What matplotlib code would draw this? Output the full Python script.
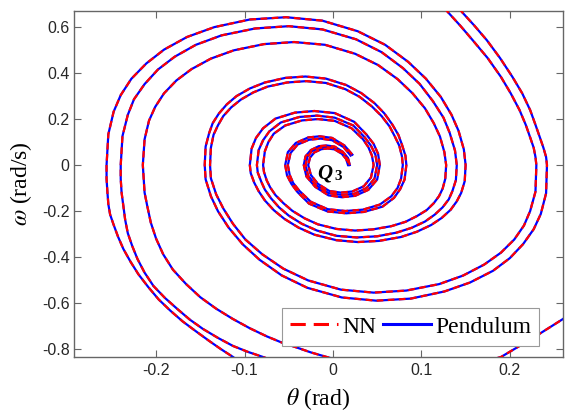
import matplotlib
matplotlib.use("Agg")
import matplotlib.pyplot as plt
from matplotlib.lines import Line2D

# ---------------------------------------------------------------------------
# Phase-plane trajectories (theta in rad, omega in rad/s)
# ---------------------------------------------------------------------------
theta_a1 = [-0.095, -0.113, -0.127, -0.140, -0.155, -0.170, -0.184, -0.197, -0.209, -0.220,
            -0.229, -0.237, -0.243, -0.248, -0.252, -0.254, -0.255, -0.256,
            -0.256, -0.254, -0.248, -0.240, -0.228, -0.211, -0.191, -0.165, -0.134, -0.094, -0.053,
            -0.012, 0.028, 0.059, 0.085, 0.105, 0.122, 0.134, 0.142, 0.148, 0.150,
            0.149, 0.145, 0.140, 0.133, 0.123, 0.111, 0.095, 0.077, 0.052, 0.028,
            0.004, -0.021, -0.039, -0.055, -0.067, -0.077, -0.084, -0.089, -0.093, -0.094,
            -0.092, -0.087, -0.079, -0.065, -0.043, -0.021, 0.002, 0.024, 0.038, 0.046, 0.051, 0.053,
            0.050, 0.040, 0.025, 0.010, -0.005, -0.020, -0.030, -0.033,
            -0.031, -0.025, -0.016, -0.007, 0.002, 0.011, 0.017, 0.019]
omega_a1 = [-0.885, -0.835, -0.800, -0.765, -0.723, -0.680, -0.633, -0.585, -0.530, -0.475,
            -0.420, -0.365, -0.312, -0.260, -0.215, -0.170, -0.120, -0.060,
            0.0, 0.134, 0.232, 0.304, 0.375, 0.442, 0.502, 0.557, 0.600, 0.633, 0.643,
            0.628, 0.582, 0.523, 0.449, 0.376, 0.296, 0.219, 0.149, 0.068, 0.0,
            -0.070, -0.121, -0.158, -0.195, -0.230, -0.261, -0.290, -0.313, -0.330, -0.335,
            -0.327, -0.303, -0.272, -0.234, -0.196, -0.154, -0.114, -0.077, -0.035, 0.0,
            0.071, 0.118, 0.160, 0.202, 0.228, 0.235, 0.226, 0.188, 0.132, 0.092, 0.049, 0.0,
            -0.063, -0.108, -0.134, -0.140, -0.132, -0.095, -0.050, 0.0,
            0.038, 0.065, 0.082, 0.085, 0.080, 0.058, 0.031, 0.0]

theta_a2 = [-0.060, -0.079, -0.096, -0.113, -0.130, -0.147, -0.162, -0.176, -0.190, -0.203,
            -0.213, -0.221, -0.227, -0.232, -0.235, -0.237, -0.239, -0.240,
            -0.240, -0.238, -0.232, -0.225, -0.213, -0.198, -0.179, -0.155, -0.126, -0.088, -0.050,
            -0.012, 0.026, 0.055, 0.079, 0.098, 0.113, 0.125, 0.132, 0.138, 0.140,
            0.139, 0.135, 0.131, 0.124, 0.115, 0.104, 0.089, 0.072, 0.050, 0.027,
            0.004, -0.018, -0.035, -0.050, -0.061, -0.070, -0.077, -0.081, -0.085, -0.086,
            -0.084, -0.079, -0.072, -0.059, -0.038, -0.018, 0.002, 0.023, 0.036, 0.043, 0.048, 0.050,
            0.047, 0.038, 0.024, 0.010, -0.005, -0.019, -0.028, -0.031,
            -0.029, -0.024, -0.015, -0.007, 0.002, 0.011, 0.016, 0.018]
omega_a2 = [-0.862, -0.835, -0.813, -0.787, -0.752, -0.713, -0.672, -0.626, -0.578, -0.526,
            -0.468, -0.409, -0.352, -0.296, -0.237, -0.178, -0.120, -0.060,
            0.0, 0.126, 0.218, 0.286, 0.352, 0.415, 0.471, 0.523, 0.564, 0.594, 0.604,
            0.590, 0.547, 0.491, 0.422, 0.353, 0.278, 0.206, 0.140, 0.063, 0.0,
            -0.066, -0.114, -0.149, -0.184, -0.216, -0.246, -0.273, -0.294, -0.310, -0.315,
            -0.308, -0.285, -0.256, -0.220, -0.184, -0.145, -0.107, -0.073, -0.033, 0.0,
            0.065, 0.108, 0.146, 0.185, 0.209, 0.215, 0.206, 0.172, 0.120, 0.084, 0.045, 0.0,
            -0.059, -0.100, -0.125, -0.130, -0.122, -0.088, -0.047, 0.0,
            0.035, 0.060, 0.075, 0.078, 0.073, 0.053, 0.028, 0.0]

theta_a3 = [0.290, 0.260, 0.225, 0.190, 0.150, 0.090, 0.030,
            -0.007, -0.025, -0.040, -0.058, -0.075, -0.094, -0.113, -0.132, -0.150, -0.166,
            -0.181, -0.192, -0.200, -0.206, -0.210, -0.213, -0.214,
            -0.215, -0.213, -0.208, -0.201, -0.191, -0.177, -0.160, -0.138, -0.112, -0.078, -0.044,
            -0.009, 0.025, 0.051, 0.073, 0.090, 0.104, 0.114, 0.121, 0.126, 0.128,
            0.127, 0.124, 0.120, 0.114, 0.106, 0.095, 0.082, 0.066, 0.045, 0.025,
            0.004, -0.017, -0.032, -0.046, -0.056, -0.065, -0.071, -0.075, -0.078, -0.079,
            -0.077, -0.073, -0.067, -0.054, -0.035, -0.017, 0.002, 0.021, 0.034, 0.040, 0.044, 0.046,
            0.043, 0.035, 0.022, 0.009, -0.004, -0.017, -0.025, -0.028,
            -0.026, -0.021, -0.013, -0.006, 0.002, 0.010, 0.015, 0.017]
omega_a3 = [-0.580, -0.670, -0.755, -0.835, -0.880, -0.900, -0.875,
            -0.835, -0.815, -0.795, -0.772, -0.745, -0.710, -0.670, -0.625, -0.575, -0.518,
            -0.455, -0.388, -0.320, -0.250, -0.178, -0.120, -0.060,
            0.0, 0.112, 0.193, 0.253, 0.312, 0.368, 0.417, 0.463, 0.499, 0.526, 0.535,
            0.523, 0.484, 0.435, 0.374, 0.312, 0.247, 0.182, 0.124, 0.056, 0.0,
            -0.060, -0.103, -0.135, -0.166, -0.196, -0.222, -0.247, -0.266, -0.280, -0.285,
            -0.278, -0.258, -0.232, -0.199, -0.166, -0.131, -0.097, -0.066, -0.030, 0.0,
            0.060, 0.100, 0.136, 0.172, 0.194, 0.200, 0.192, 0.160, 0.112, 0.078, 0.042, 0.0,
            -0.054, -0.092, -0.115, -0.120, -0.113, -0.082, -0.043, 0.0,
            0.032, 0.055, 0.069, 0.072, 0.068, 0.049, 0.026, 0.0]

theta_b1 = [0.135, 0.146, 0.160, 0.174, 0.189, 0.203, 0.214, 0.223, 0.229, 0.234, 0.238, 0.241,
            0.242, 0.241, 0.235, 0.227, 0.215, 0.200, 0.181, 0.155, 0.126, 0.088, 0.049,
            0.010, -0.029, -0.058, -0.083, -0.102, -0.118, -0.130, -0.138, -0.144, -0.145,
            -0.144, -0.140, -0.136, -0.129, -0.120, -0.109, -0.094, -0.077, -0.054, -0.031,
            -0.008, 0.015, 0.032, 0.047, 0.058, 0.067, 0.074, 0.078, 0.082, 0.083,
            0.081, 0.076, 0.069, 0.056, 0.035, 0.015, -0.006, -0.027, -0.040, -0.047, -0.052, -0.054,
            -0.051, -0.042, -0.028, -0.015, -0.001, 0.013, 0.022]
omega_b1 = [0.720, 0.665, 0.606, 0.543, 0.465, 0.383, 0.312, 0.239, 0.175, 0.120, 0.075, 0.035,
            0.0, -0.123, -0.213, -0.279, -0.344, -0.405, -0.460, -0.511, -0.550, -0.581, -0.590,
            -0.576, -0.534, -0.480, -0.412, -0.345, -0.272, -0.201, -0.136, -0.062, 0.0,
            0.080, 0.139, 0.182, 0.224, 0.264, 0.300, 0.333, 0.359, 0.379, 0.385,
            0.376, 0.348, 0.313, 0.269, 0.225, 0.177, 0.131, 0.089, 0.040, 0.0,
            -0.063, -0.105, -0.143, -0.181, -0.204, -0.210, -0.202, -0.168, -0.118, -0.082, -0.044, 0.0,
            0.056, 0.096, 0.120, 0.125, 0.118, 0.085, 0.045]

theta_b2 = [0.118, 0.130, 0.144, 0.158, 0.175, 0.190, 0.201, 0.211, 0.218, 0.223, 0.227, 0.229,
            0.230, 0.229, 0.223, 0.216, 0.205, 0.190, 0.171, 0.147, 0.120, 0.083, 0.046,
            0.009, -0.028, -0.056, -0.080, -0.099, -0.113, -0.124, -0.132, -0.138, -0.139,
            -0.138, -0.135, -0.130, -0.124, -0.115, -0.104, -0.090, -0.074, -0.052, -0.030,
            -0.008, 0.014, 0.030, 0.044, 0.055, 0.064, 0.070, 0.075, 0.078, 0.079,
            0.077, 0.073, 0.066, 0.053, 0.034, 0.014, -0.006, -0.025, -0.038, -0.045, -0.049, -0.051,
            -0.048, -0.040, -0.027, -0.014, -0.001, 0.012, 0.020]
omega_b2 = [0.720, 0.665, 0.606, 0.543, 0.465, 0.383, 0.312, 0.239, 0.175, 0.120, 0.075, 0.035,
            0.0, -0.116, -0.200, -0.263, -0.324, -0.381, -0.433, -0.481, -0.518, -0.546, -0.555,
            -0.542, -0.502, -0.451, -0.388, -0.324, -0.256, -0.189, -0.128, -0.058, 0.0,
            0.076, 0.132, 0.173, 0.213, 0.251, 0.285, 0.316, 0.341, 0.359, 0.365,
            0.357, 0.330, 0.297, 0.255, 0.213, 0.168, 0.124, 0.084, 0.038, 0.0,
            -0.060, -0.100, -0.136, -0.172, -0.194, -0.200, -0.192, -0.160, -0.112, -0.078, -0.042, 0.0,
            0.052, 0.089, 0.110, 0.115, 0.108, 0.078, 0.041]

x_ticks = [-0.2, -0.1, 0.0, 0.1, 0.2]
x_tick_labels = ["-0.2", "-0.1", "0", "0.1", "0.2"]
y_ticks = [-0.8, -0.6, -0.4, -0.2, 0.0, 0.2, 0.4, 0.6]
y_tick_labels = ["-0.8", "-0.6", "-0.4", "-0.2", "0", "0.2", "0.4", "0.6"]

# ---------------------------------------------------------------------------
plt.rcParams.update({
    "font.family": "Liberation Sans",
    "mathtext.fontset": "stix",
    "axes.unicode_minus": False,
})

fig = plt.figure(figsize=(5.68, 4.12), dpi=100)
ax = fig.add_axes([0.130, 0.1335, 0.861, 0.8398])

curves = [(theta_a1, omega_a1), (theta_a2, omega_a2), (theta_a3, omega_a3),
          (theta_b1, omega_b1), (theta_b2, omega_b2)]
for th, om in curves:
    ax.plot(th, om, color="blue", lw=1.6, solid_joinstyle="round", zorder=2)
for th, om in curves:
    ax.plot(th, om, color="red", lw=1.6, ls=(0, (3, 2)),
            dash_joinstyle="round", zorder=3)

ax.set_xlim(-0.293, 0.26)
ax.set_ylim(-0.835, 0.67)
ax.set_xticks(x_ticks)
ax.set_xticklabels(x_tick_labels)
ax.set_yticks(y_ticks)
ax.set_yticklabels(y_tick_labels)
ax.tick_params(direction="in", top=True, right=True, length=5, width=0.8,
               color="0.4", labelsize=11.5, labelcolor="0.15")
ax.tick_params(axis="x", pad=4.3)
ax.tick_params(axis="y", pad=3)
for sp in ax.spines.values():
    sp.set_color("0.4")
    sp.set_linewidth(1.0)

ax.set_xlabel(r"$\theta$ (rad)", fontfamily="Liberation Serif", fontsize=17, labelpad=6)
ax.set_ylabel(r"$\omega$ (rad/s)", fontfamily="Liberation Serif", fontsize=17, labelpad=6)

# Equilibrium label
ax.text(-0.018, -0.057, "Q", fontfamily="Liberation Serif", fontweight="bold",
        fontstyle="italic", fontsize=15, ha="left", va="baseline", zorder=5)
ax.text(0.002, -0.066, "3", fontfamily="Liberation Serif", fontweight="bold",
        fontsize=11, ha="left", va="baseline", zorder=5)

handles = [Line2D([], [], color="red", lw=2.2, ls=(0, (5, 2.6))),
           Line2D([], [], color="blue", lw=2.2)]
leg = ax.legend(handles, ["NN", "Pendulum"], loc="lower left",
                bbox_to_anchor=(0.425, 0.032), borderaxespad=0, ncol=2,
                prop={"family": "Liberation Serif", "size": 17},
                handlelength=2.05, handletextpad=0.15, columnspacing=0.3,
                borderpad=0.35, fancybox=False, framealpha=1.0)
leg.get_frame().set_edgecolor("0.6")
leg.get_frame().set_linewidth(0.8)

fig.savefig("out.png", dpi=100)
